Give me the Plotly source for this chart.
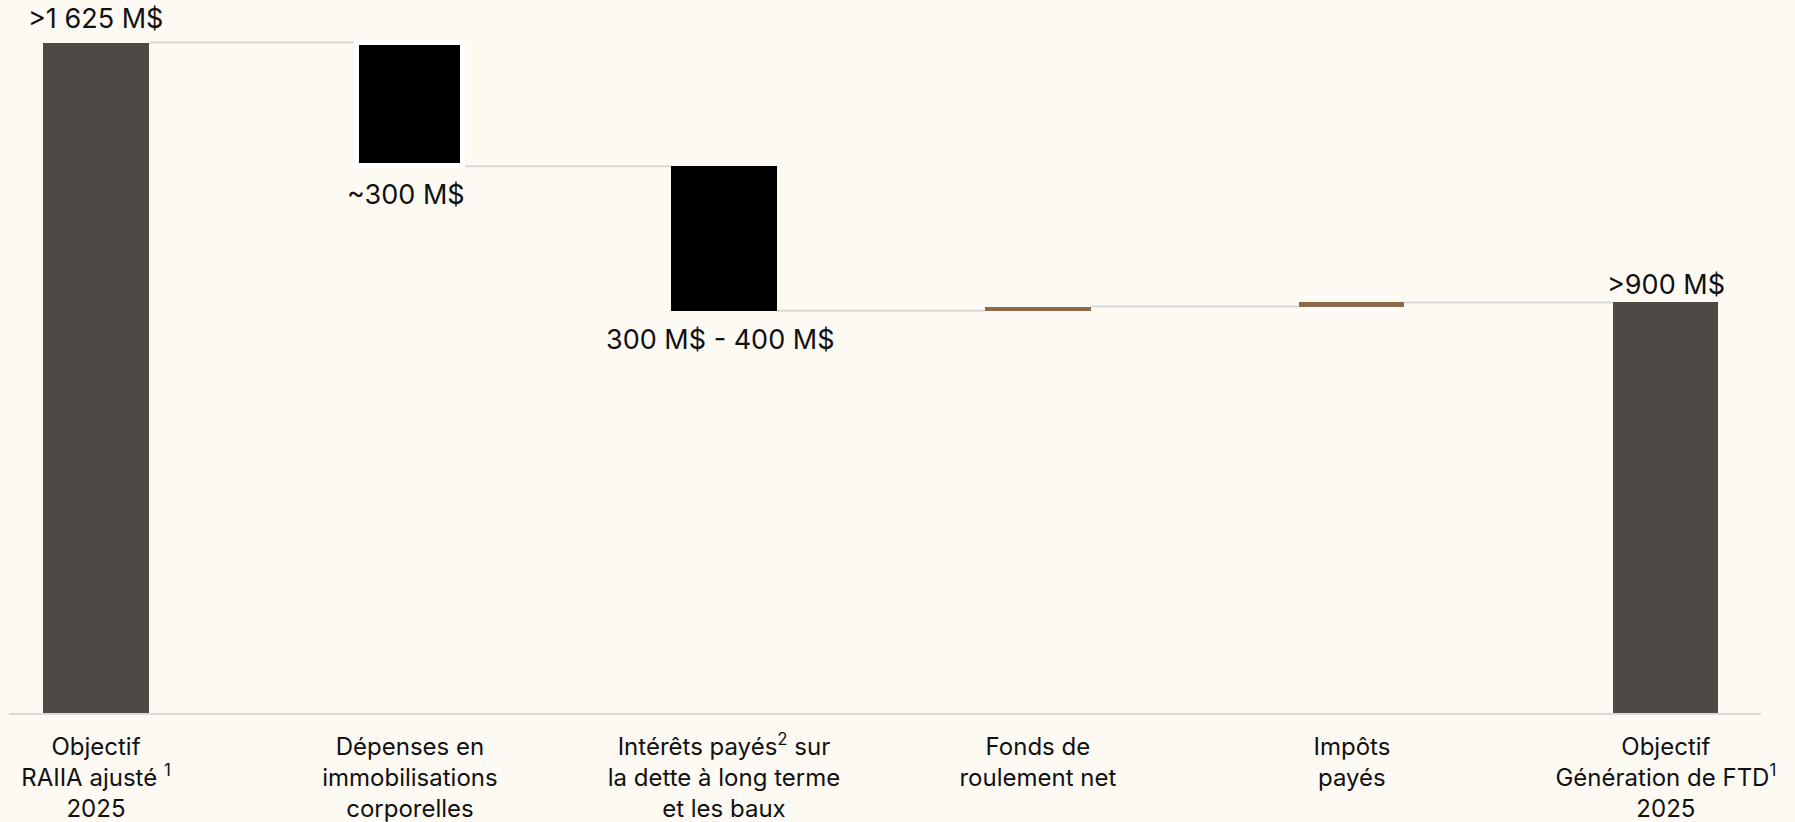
import plotly.graph_objects as go

# Category labels (tick text) for each step of the bridge
categories = [
    "Objectif<br>RAIIA ajusté <sup>1</sup><br>2025",
    "Dépenses en<br>immobilisations<br>corporelles",
    "Intérêts payés<sup>2</sup> sur<br>la dette à long terme<br>et les baux",
    "Fonds de<br>roulement net",
    "Impôts<br>payés",
    "Objectif<br>Génération de FTD<sup>1</sup><br>2025",
]
# Step amounts in M$ ("total" marks the closing bar)
measures = ["absolute", "relative", "relative", "relative", "relative", "total"]
amounts = [1625, -300, -350, 10, 10, 0]
value_labels = [">1 625 M$", "~300 M$", "300 M$ - 400 M$", "", "", ">900 M$"]
bar_colors = ["#4D4945", "#000000", "#000000", "#8C6A4B", "#8C6A4B", "#4D4945"]
outline_widths = [0, 5, 0, 0, 0, 0]
label_gap = [5, 10, 10, 0, 0, -1]

BG = "#FCFAF3"
CONNECTOR = "#D9D9D9"
BAR_W = 0.335
FONT = "Inter"
TEXT = "#111111"

# Running levels -> bar bases and heights
bases, heights, levels = [], [], []
level = 0
for m, a in zip(measures, amounts):
    if m == "absolute":
        base, h = 0, a
        level = a
    elif m == "total":
        base, h = 0, level
    else:
        start = level
        level = level + a
        base, h = min(start, level), abs(a)
    bases.append(base)
    heights.append(h)
    levels.append(level)

xs = list(range(len(categories)))

fig = go.Figure()
fig.add_trace(go.Bar(
    x=xs, y=heights, base=bases, width=BAR_W,
    marker=dict(color=bar_colors, line=dict(color="white", width=outline_widths)),
    hoverinfo="skip", showlegend=False,
))

# Connector lines between consecutive bars
shapes = []
for i in range(len(xs) - 1):
    shapes.append(dict(
        type="line", xref="x", yref="y", layer="below",
        x0=xs[i] + BAR_W / 2, x1=xs[i + 1] - BAR_W / 2,
        y0=levels[i], y1=levels[i],
        line=dict(color=CONNECTOR, width=2),
    ))

# Value labels: above for totals, below for decreases
annotations = []
for i, (m, a, lab) in enumerate(zip(measures, amounts, value_labels)):
    if not lab:
        continue
    if a < 0:
        annotations.append(dict(x=xs[i], y=bases[i], text=lab, showarrow=False,
                                yanchor="top", yshift=-label_gap[i], xshift=-4,
                                font=dict(family=FONT, size=27, color=TEXT)))
    else:
        annotations.append(dict(x=xs[i], y=bases[i] + heights[i], text=lab, showarrow=False,
                                yanchor="bottom", yshift=label_gap[i],
                                font=dict(family=FONT, size=27, color=TEXT)))

fig.update_layout(
    width=1795, height=822,
    margin=dict(l=9, r=34, t=0, b=109),
    paper_bgcolor=BG, plot_bgcolor=BG,
    shapes=shapes, annotations=annotations,
    bargap=0,
    xaxis=dict(
        range=[-0.277, 5.303], tickmode="array", tickvals=xs, ticktext=categories,
        showline=True, linecolor=CONNECTOR, linewidth=2, ticks="", showgrid=False,
        zeroline=False, tickfont=dict(family=FONT, size=24, color=TEXT),
        ticklabelstandoff=11, automargin=False, fixedrange=True,
    ),
    yaxis=dict(range=[0, 1728], visible=False, fixedrange=True, automargin=False),
    font=dict(family=FONT),
)

fig.write_html("out.html")
